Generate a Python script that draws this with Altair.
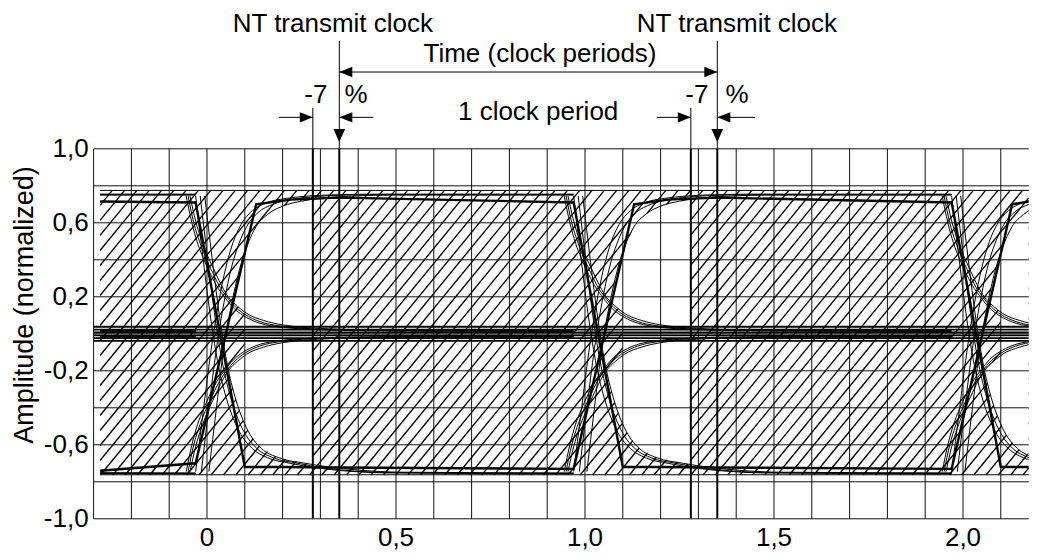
import altair as alt
import numpy as np
import pandas as pd

FONT = "Liberation Sans"
FS = 26

# ---------------- axes ----------------
x_domain = [-0.3, 2.174]
y_domain = [-1.0, 1.0]
x_grid = [-0.3, -0.2, -0.1, 0.0, 0.1, 0.2, 0.3, 0.4, 0.5, 0.6, 0.7, 0.8, 0.9,
          1.0, 1.1, 1.2, 1.3, 1.4, 1.5, 1.6, 1.7, 1.8, 1.9, 2.0, 2.1]
y_grid = [1.0, 0.8, 0.6, 0.4, 0.2, 0.0, -0.2, -0.4, -0.6, -0.8, -1.0]
x_tick_values = [0.0, 0.5, 1.0, 1.5, 2.0]
x_tick_labels = ["0", "0,5", "1,0", "1,5", "2,0"]
y_tick_values = [1.0, 0.6, 0.2, -0.2, -0.6, -1.0]
y_tick_labels = ["1,0", "0,6", "0,2", "-0,2", "-0,6", "-1,0"]

# ---------------- eye-diagram traces (x relative to the period start) ----------------
periods = [-1, 0, 1, 2]
# rising responses (upper half)
Ra_x = [-0.03, -0.01, 0.01, 0.03, 0.05, 0.07, 0.09, 0.12, 0.16, 0.21, 0.27, 0.35, 0.45, 0.97]
Ra_y = [-0.745, -0.42, -0.10, 0.16, 0.36, 0.50, 0.59, 0.665, 0.71, 0.732, 0.745, 0.752, 0.755, 0.755]
Rb_x = [-0.015, 0.005, 0.025, 0.045, 0.065, 0.085, 0.105, 0.135, 0.175, 0.225, 0.29, 0.37, 0.47, 0.97]
Rb_y = [-0.745, -0.40, -0.08, 0.17, 0.36, 0.49, 0.58, 0.655, 0.70, 0.727, 0.742, 0.75, 0.752, 0.752]
Rc_x = [0.005, 0.025, 0.045, 0.065, 0.085, 0.105, 0.13, 0.16, 0.20, 0.25, 0.31, 0.39, 0.49, 0.97]
Rc_y = [-0.745, -0.40, -0.07, 0.16, 0.34, 0.47, 0.58, 0.645, 0.69, 0.717, 0.735, 0.745, 0.75, 0.75]
# falling responses (lower half)
Fa_x = [-0.03, -0.01, 0.01, 0.03, 0.05, 0.07, 0.09, 0.12, 0.16, 0.22, 0.29, 0.37, 0.47, 0.97]
Fa_y = [0.745, 0.40, 0.08, -0.17, -0.34, -0.46, -0.545, -0.62, -0.67, -0.70, -0.725, -0.742, -0.752, -0.757]
Fb_x = [-0.018, 0.002, 0.022, 0.042, 0.062, 0.082, 0.102, 0.132, 0.175, 0.24, 0.31, 0.39, 0.49, 0.97]
Fb_y = [0.745, 0.40, 0.08, -0.17, -0.34, -0.46, -0.545, -0.62, -0.67, -0.70, -0.725, -0.742, -0.75, -0.755]
Fc_x = [-0.006, 0.014, 0.034, 0.054, 0.074, 0.094, 0.114, 0.144, 0.19, 0.26, 0.33, 0.41, 0.51, 0.97]
Fc_y = [0.745, 0.40, 0.08, -0.17, -0.34, -0.46, -0.545, -0.62, -0.67, -0.70, -0.722, -0.738, -0.748, -0.752]
# decays towards zero (upper half; lower half is the mirror image)
Da_x = [-0.055, -0.04, -0.025, -0.01, 0.01, 0.03, 0.048, 0.07, 0.095, 0.13, 0.18, 0.24, 0.31, 0.40, 0.6, 0.97]
Da_y = [0.745, 0.60, 0.49, 0.41, 0.32, 0.245, 0.195, 0.14, 0.10, 0.064, 0.04, 0.028, 0.021, 0.017, 0.014, 0.013]
Db_x = [-0.05, -0.035, -0.02, -0.005, 0.015, 0.035, 0.052, 0.075, 0.10, 0.14, 0.19, 0.25, 0.32, 0.41, 0.6, 0.97]
Db_y = [0.745, 0.60, 0.50, 0.42, 0.33, 0.25, 0.20, 0.145, 0.105, 0.066, 0.043, 0.03, 0.023, 0.019, 0.016, 0.015]
Dc_x = [-0.045, -0.03, -0.015, 0.0, 0.02, 0.04, 0.056, 0.08, 0.105, 0.15, 0.2, 0.26, 0.33, 0.42, 0.6, 0.97]
Dc_y = [0.745, 0.61, 0.51, 0.43, 0.34, 0.255, 0.20, 0.15, 0.11, 0.072, 0.048, 0.034, 0.026, 0.021, 0.018, 0.018]

# thick pulse traces (absolute x)
T1_x = [-0.283, -0.03, 0.10, 0.20, 0.35, 0.97, 1.13, 1.22, 1.35, 1.97, 2.10, 2.174]
T1_y = [0.715, 0.71, -0.72, -0.72, -0.723, -0.73, 0.70, 0.725, 0.736, 0.71, -0.72, -0.72]
T2_x = [-0.283, -0.03, 0.13, 0.22, 0.35, 0.97, 1.10, 1.20, 1.35, 1.97, 2.13, 2.174]
T2_y = [-0.74, -0.70, 0.70, 0.725, 0.736, 0.71, -0.72, -0.72, -0.723, -0.73, 0.70, 0.715]

# threshold lines around zero
zero_band_y = [0.038, 0.023, 0.008, -0.008, -0.023, -0.038]

# mask (hatched) band
band_top, band_bot = 0.775, -0.762
hatch_left = -0.283
eye_right = 0.28       # sampling window edge (relative)
eye_step = 0.1

# clock / tolerance markers
clock_x = [0.35, 1.35]
window_x = [0.28, 1.28]

# ---------------- data tables ----------------
curves = {
    "Ra": (Ra_x, Ra_y), "Rb": (Rb_x, Rb_y), "Rc": (Rc_x, Rc_y),
    "Fa": (Fa_x, Fa_y), "Fb": (Fb_x, Fb_y), "Fc": (Fc_x, Fc_y),
    "Da": (Da_x, Da_y), "Db": (Db_x, Db_y), "Dc": (Dc_x, Dc_y),
    "La": (Da_x, [-v for v in Da_y]), "Lb": (Db_x, [-v for v in Db_y]),
    "Lc": (Dc_x, [-v for v in Dc_y]),
}
rows = []
for k in periods:
    for name, (cx, cy) in curves.items():
        for i, (a, b) in enumerate(zip(cx, cy)):
            rows.append({"id": f"{name}{k}", "i": i, "x": a + k, "y": b})
curve_df = pd.DataFrame(rows)

thick_rows = []
for name, (tx, ty) in {"T1": (T1_x, T1_y), "T2": (T2_x, T2_y)}.items():
    for i, (a, b) in enumerate(zip(tx, ty)):
        thick_rows.append({"id": name, "i": i, "x": a, "y": b})
thick_df = pd.DataFrame(thick_rows)

# geometry of the plot (pixels per data unit)
PX_X = 378.0
PX_Y = 185.0

# hatch lines (fill pattern of the mask band)
span = (band_top - band_bot) * PX_Y / 1.22 / PX_X
spacing = 12.3 / PX_X
hrows = []
xb = hatch_left - span
while xb < x_domain[1]:
    x1, y1, x2, y2 = xb, band_bot, xb + span, band_top
    if x1 < hatch_left:
        t = (hatch_left - xb) / span
        x1, y1 = hatch_left, band_bot + t * (band_top - band_bot)
    if x2 > x_domain[1]:
        t = (x_domain[1] - xb) / span
        x2, y2 = x_domain[1], band_bot + t * (band_top - band_bot)
    if x2 > x1:
        hrows.append({"x": x1, "y": y1, "x2": x2, "y2": y2})
    xb += spacing
hatch_df = pd.DataFrame(hrows)

# open eye regions (white, cut out of the hatching)
xq = np.sort(np.concatenate([np.linspace(0.0, eye_right, 141), [eye_step - 0.0001]]))
interp = lambda n: np.interp(xq, curves[n][0], curves[n][1])
up_top = np.min([interp(n) for n in ("Ra", "Rb", "Rc")], axis=0)
dec = np.max([interp(n) for n in ("Da", "Db", "Dc")], axis=0)
up_bot = np.minimum(np.where(xq < eye_step, dec, 0.0), up_top)
lo_bot = np.max([interp(n) for n in ("Fa", "Fb", "Fc")], axis=0)
lo_top = np.maximum(np.where(xq < eye_step, -dec, 0.0), lo_bot)
erows = []
for k in [0, 1, 2]:
    for j in range(len(xq)):
        erows.append({"id": f"u{k}", "x": xq[j] + k, "top": up_top[j], "bot": up_bot[j]})
        erows.append({"id": f"l{k}", "x": xq[j] + k, "top": lo_top[j], "bot": lo_bot[j]})
eye_df = pd.DataFrame(erows)

# ---------------- encodings ----------------
xs = alt.Scale(domain=x_domain, nice=False, zero=False)
ys = alt.Scale(domain=y_domain, nice=False, zero=False)
X = lambda f="x": alt.X(f"{f}:Q", scale=xs, axis=None)
Y = lambda f="y": alt.Y(f"{f}:Q", scale=ys, axis=None, stack=None)

layers = []
layers.append(alt.Chart(hatch_df).mark_rule(color="black", strokeWidth=1.35).encode(
    x=X(), y=Y(), x2="x2:Q", y2="y2:Q"))
layers.append(alt.Chart(eye_df).mark_area(color="white", opacity=1, clip=True).encode(
    x=X(), y=Y("top"), y2="bot:Q", detail="id:N"))
# mask outline at top and bottom of the band
bl = pd.DataFrame({"y": [band_top, band_bot], "x": hatch_left, "x2": x_domain[1]})
layers.append(alt.Chart(bl).mark_rule(color="black", strokeWidth=1).encode(y=Y(), x=X(), x2="x2:Q"))
layers.append(alt.Chart(curve_df).mark_line(color="black", strokeWidth=1, clip=True,
                                            interpolate="monotone").encode(
    x=X(), y=Y(), detail="id:N", order="i:Q"))
layers.append(alt.Chart(thick_df).mark_line(color="black", strokeWidth=2.4, clip=True).encode(
    x=X(), y=Y(), detail="id:N", order="i:Q"))
# white strip left of the mask
strip_df = pd.DataFrame({"x": [x_domain[0]], "x2": [hatch_left], "y": [1.0], "y2": [-1.0]})
layers.append(alt.Chart(strip_df).mark_rect(color="white").encode(
    x=X(), x2="x2:Q", y=Y(), y2="y2:Q"))
# grid
vg = pd.DataFrame({"x": x_grid, "y": -1.0, "y2": 1.0})
hg = pd.DataFrame({"y": y_grid, "x": x_domain[0], "x2": x_domain[1]})
layers.append(alt.Chart(vg).mark_rule(color="#111", strokeWidth=1).encode(x=X(), y=Y(), y2="y2:Q"))
layers.append(alt.Chart(hg).mark_rule(color="#111", strokeWidth=1).encode(y=Y(), x=X(), x2="x2:Q"))
# zero-band lines
zb = pd.DataFrame({"y": zero_band_y, "x": x_domain[0], "x2": x_domain[1]})
layers.append(alt.Chart(zb).mark_rule(color="black", strokeWidth=1.8).encode(y=Y(), x=X(), x2="x2:Q"))
# clock / window verticals inside the plot
vl = pd.DataFrame({"x": clock_x + window_x, "y": -1.0, "y2": 1.0})
layers.append(alt.Chart(vl).mark_rule(color="black", strokeWidth=2).encode(x=X(), y=Y(), y2="y2:Q"))

# ---------------- annotations above the plot ----------------
clock_top = 1.583
time_arrow_y = 1.415
dim_arrow_y = 1.170
ext_top = 1.221
head_tip_y = 1.037
ann_lines = pd.DataFrame({
    "x":  [clock_x[0], clock_x[1], window_x[0], window_x[1], clock_x[0],
           0.19, 0.44, 1.19, 1.45],
    "x2": [clock_x[0], clock_x[1], window_x[0], window_x[1], clock_x[1],
           window_x[0], clock_x[0], window_x[1], clock_x[1]],
    "y":  [clock_top, clock_top, ext_top, ext_top, time_arrow_y,
           dim_arrow_y, dim_arrow_y, dim_arrow_y, dim_arrow_y],
    "y2": [1.0, 1.0, 1.0, 1.0, time_arrow_y,
           dim_arrow_y, dim_arrow_y, dim_arrow_y, dim_arrow_y],
})
layers.append(alt.Chart(ann_lines).mark_rule(color="black", strokeWidth=1).encode(
    x=X(), x2="x2:Q", y=Y(), y2="y2:Q"))

def head(df, path):
    return alt.Chart(df).mark_point(shape=path, filled=True, size=676, color="black",
                                    opacity=1, strokeWidth=0).encode(x=X(), y=Y())

down_path = "M0,0 L-0.45,-1 L0.45,-1 Z"
left_path = "M0,0 L1,-0.4 L1,0.4 Z"
right_path = "M0,0 L-1,-0.4 L-1,0.4 Z"
layers.append(head(pd.DataFrame({"x": clock_x, "y": [head_tip_y, head_tip_y]}), down_path))
layers.append(head(pd.DataFrame({"x": [clock_x[0], clock_x[0], clock_x[1]],
                                 "y": [time_arrow_y, dim_arrow_y, dim_arrow_y]}), left_path))
layers.append(head(pd.DataFrame({"x": [clock_x[1], window_x[0], window_x[1]],
                                 "y": [time_arrow_y, dim_arrow_y, dim_arrow_y]}), right_path))

# texts
ann_text = pd.DataFrame({
    "x": [0.333, 1.402, 0.881, 0.876, 0.288, 0.394, 1.296, 1.402],
    "y": [1.631, 1.631, 1.469, 1.156, 1.248, 1.248, 1.248, 1.248],
    "text": ["NT transmit clock", "NT transmit clock", "Time (clock periods)",
             "1 clock period", "-7", "%", "-7", "%"],
})
layers.append(alt.Chart(ann_text).mark_text(font=FONT, fontSize=FS, color="black",
                                            align="center", baseline="alphabetic").encode(
    x=X(), y=Y(), text="text:N"))
xt = pd.DataFrame({"x": x_tick_values, "y": -1.0, "text": x_tick_labels})
layers.append(alt.Chart(xt).mark_text(font=FONT, fontSize=FS, color="black", align="center",
                                      baseline="alphabetic", dy=27).encode(x=X(), y=Y(), text="text:N"))
yt = pd.DataFrame({"y": y_tick_values, "x": x_domain[0], "text": y_tick_labels})
layers.append(alt.Chart(yt).mark_text(font=FONT, fontSize=FS, color="black", align="right",
                                      baseline="middle", dx=-5).encode(x=X(), y=Y(), text="text:N"))
yl = pd.DataFrame({"x": [-0.482], "y": [0.156], "text": ["Amplitude (normalized)"]})
layers.append(alt.Chart(yl).mark_text(font=FONT, fontSize=27, color="black", align="center",
                                      baseline="middle", angle=270).encode(x=X(), y=Y(), text="text:N"))

W = (x_domain[1] - x_domain[0]) * PX_X
H = 2 * PX_Y
chart = alt.layer(*layers).properties(
    width=W, height=H,
    autosize=alt.AutoSizeParams(type="none"),
    padding={"left": 85.6, "top": 140.8, "right": 0, "bottom": 33.2},
    background="white",
).configure_view(stroke=None)

chart.save("out.html", embed_options={"renderer": "svg", "actions": False})
